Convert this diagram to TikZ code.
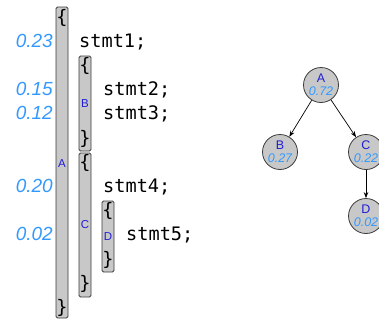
\documentclass[tikz,border=0pt]{standalone}
\usepackage{fontspec}
\setmainfont{Liberation Sans}
\newfontfamily\codefont{DejaVu Sans Mono}
\usetikzlibrary{arrows.meta}
\definecolor{probblue}{RGB}{51,153,255}
\definecolor{labelblue}{RGB}{30,30,215}
\definecolor{blockfill}{RGB}{200,200,200}
\definecolor{blockedge}{RGB}{60,60,60}
\tikzset{
  block/.style={draw=blockedge, fill=blockfill, rounded corners=1.5pt, line width=0.8pt,
    minimum width=12pt, inner sep=0pt},
  blocklabel/.style={text=labelblue, font=\fontsize{11.5}{11.5}\selectfont, inner sep=0pt},
  code/.style={anchor=base west, inner sep=0pt, font=\codefont\fontsize{18.6}{18.6}\selectfont},
  brace/.style={anchor=base, inner sep=0pt, font=\codefont\fontsize{18.6}{18.6}\selectfont},
  prob/.style={anchor=base east, inner sep=0pt, text=probblue,
    font=\itshape\fontsize{19}{19}\selectfont},
  treenode/.style={circle, draw=blockedge, fill=blockfill, line width=0.8pt,
    minimum size=35pt, inner sep=0pt},
  treeletter/.style={text=labelblue, font=\fontsize{12.5}{12.5}\selectfont, inner sep=0pt},
  treeprob/.style={text=probblue, font=\itshape\fontsize{12.5}{12.5}\selectfont, inner sep=0pt},
  edge/.style={draw=black, line width=0.7pt, -{Stealth[length=6pt,width=4.5pt]}}
}
\begin{document}
\begin{tikzpicture}[x=1pt,y=1pt]
\useasboundingbox (0,0) rectangle (379,-324);

% nested blocks
\node[block, minimum height=311pt] (blkA) at (62,-162.5) {};
\node[block, minimum height=95pt]  (blkB) at (85,-103.5) {};
\node[block, minimum height=144pt] (blkC) at (85,-225) {};
\node[block, minimum height=71pt]  (blkD) at (108,-236.5) {};

\node[blocklabel] (labA) at (62,-164) {A};
\node[blocklabel] (labB) at (85,-104) {B};
\node[blocklabel] (labC) at (85,-225) {C};
\node[blocklabel] (labD) at (108,-237) {D};

% braces, one per code line
\node[brace] (openA)  at (62,-23)    {\{};
\node[brace] (openB)  at (85,-71.4)  {\{};
\node[brace] (closeB) at (85,-144)   {\}};
\node[brace] (openC)  at (85,-168.2) {\{};
\node[brace] (openD)  at (108,-216.6) {\{};
\node[brace] (closeD) at (108,-265)  {\}};
\node[brace] (closeC) at (85,-289.2) {\}};
\node[brace] (closeA) at (62,-313.4) {\}};

% statements
\node[code] (s1) at (79,-47.2)   {stmt1;};
\node[code] (s2) at (103,-95.6)  {stmt2;};
\node[code] (s3) at (103,-119.8) {stmt3;};
\node[code] (s4) at (103,-192.4) {stmt4;};
\node[code] (s5) at (126,-240.8) {stmt5;};

% statement probabilities
\node[prob] (p1) at (53,-47.2)  {0.23};
\node[prob] (p2) at (53,-95.6)  {0.15};
\node[prob] (p3) at (53,-119.8) {0.12};
\node[prob] (p4) at (53,-192.4) {0.20};
\node[prob] (p5) at (53,-240.8) {0.02};

% block tree
\node[treenode] (tA) at (321,-85)  {};
\node[treenode] (tB) at (280,-152) {};
\node[treenode] (tC) at (366,-152) {};
\node[treenode] (tD) at (366,-216) {};

\node[treeletter] (tAl) at (321,-78)  {A};
\node[treeprob]   (tAp) at (321,-91)  {0.72};
\node[treeletter] (tBl) at (280,-145) {B};
\node[treeprob]   (tBp) at (280,-158) {0.27};
\node[treeletter] (tCl) at (366,-145) {C};
\node[treeprob]   (tCp) at (366,-158) {0.22};
\node[treeletter] (tDl) at (366,-209) {D};
\node[treeprob]   (tDp) at (366,-222) {0.02};

\draw[edge] (tA) -- (tB);
\draw[edge] (tA) -- (tC);
\draw[edge] (tC) -- (tD);
\end{tikzpicture}
\end{document}
